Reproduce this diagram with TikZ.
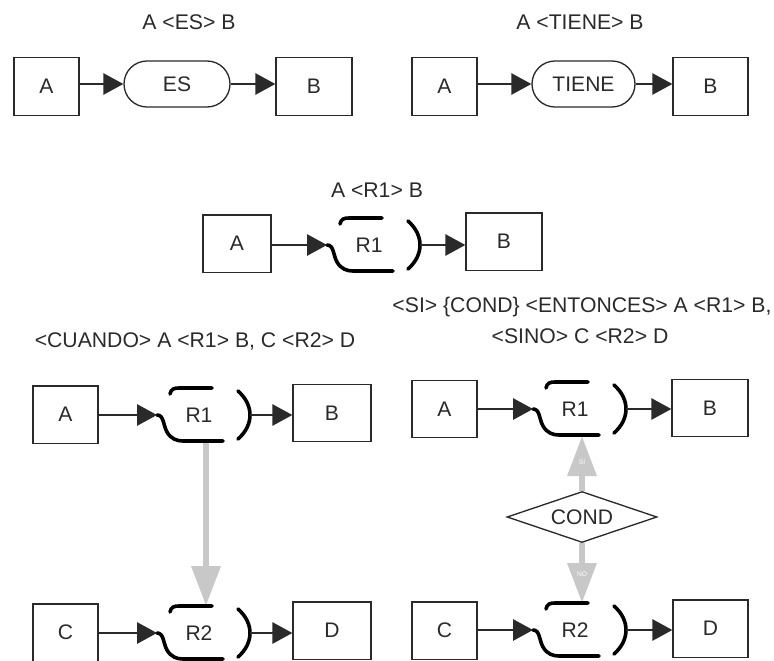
\documentclass[tikz,border=0pt]{standalone}
\usepackage{fontspec}
\setmainfont{Liberation Sans}
\usetikzlibrary{arrows.meta,shapes.misc,shapes.geometric,backgrounds}
\definecolor{ink}{HTML}{2A2A2A}
\definecolor{lgray}{HTML}{C8C8C8}
\newcommand{\nodefont}{\fontsize{15.8pt}{18pt}\selectfont}
\newcommand{\titlefont}{\fontsize{15.9pt}{18pt}\selectfont}
\newcommand{\tinyfont}{\fontsize{5pt}{6pt}\selectfont}
\tikzset{
  box/.style={draw=ink, line width=1pt, text=ink, font=\nodefont, inner sep=0pt, minimum height=43pt},
  pill/.style={rounded rectangle, draw=ink, line width=1pt, text=ink, font=\nodefont, minimum height=34.5pt, inner sep=0pt},
  condbox/.style={diamond, draw=ink, line width=1pt, text=ink, font=\nodefont, minimum width=112.5pt, minimum height=38.25pt, inner sep=0pt, aspect=2.9, fill=white},
  ttl/.style={text=ink, font=\titlefont, anchor=base, inner sep=0pt},
  conn/.style={draw=ink, line width=1.4pt, -{Triangle[length=15pt,width=16pt]}},
  rbar/.style={line width=2.7pt, line cap=round, draw=black},
  garrow/.style={draw=lgray, line width=5pt, -{Triangle[length=30pt,width=21pt]}},
  tinylbl/.style={font=\tinyfont, text=white, inner sep=0pt},
  rtext/.style={text=ink, font=\nodefont, inner sep=0pt},
  pics/rel/.style={code={
    \draw[rbar] (-29,-21) .. controls (-28,-26) and (-25,-27) .. (-20,-27) -- (13,-27);
    \draw[rbar] (-42,0) .. controls (-35,0) and (-36,10) .. (-32,17) .. controls (-28,24) and (-22,26) .. (-16,26) -- (24,26);
    \draw[rbar] (39,-24) .. controls (55,-10) and (55,10) .. (39,24);
    \node[rtext] (-lbl) at (0,0) {#1};
    \coordinate (-in) at (-42,0);
    \coordinate (-out) at (51,0);
    \coordinate (-top) at (7,-27);
    \coordinate (-bot) at (7,27);
  }}
}
\begin{document}
\begin{tikzpicture}[x=0.75pt,y=-0.75pt]
\useasboundingbox (0,0) rectangle (774,660);

% --- top left: A <ES> B
\node[ttl] (t1) at (189,30) {A <ES> B};
\node[box, minimum width=48.75pt] (tA) at (46.5,86.5) {A};
\node[pill, minimum width=79.5pt] (es) at (177,84) {ES};
\node[box, minimum width=57pt] (tB) at (314,86.5) {B};
\draw[conn] (tA.east |- es.west) -- (es.west);
\draw[conn] (es.east) -- (tB.west |- es.east);

% --- top right: A <TIENE> B
\node[ttl] (t2) at (580,30) {A <TIENE> B};
\node[box, minimum width=48.75pt] (uA) at (444.5,86.5) {A};
\node[pill, minimum width=77.25pt] (ti) at (583.5,84) {TIENE};
\node[box, minimum width=56.25pt] (uB) at (710.5,86.5) {B};
\draw[conn] (uA.east |- ti.west) -- (ti.west);
\draw[conn] (ti.east) -- (uB.west |- ti.east);

% --- middle: A <R1> B
\node[ttl] (t3) at (377,197) {A <R1> B};
\node[box, minimum width=51pt] (mA) at (237,243.5) {A};
\node[box, minimum width=57pt] (mB) at (504,241.5) {B};
\pic (m1) at (369,245) {rel=R1};
\draw[conn] (mA.east |- m1-in) -- (m1-in);
\draw[conn] (m1-out) -- (mB.west |- m1-out);

% --- bottom left: CUANDO
\node[ttl] (t4) at (195,347) {<CUANDO> A <R1> B, C <R2> D};
\node[box, minimum width=48.75pt] (lA) at (65.5,414.5) {A};
\node[box, minimum width=58.5pt] (lB) at (332,413) {B};
\node[box, minimum width=48.75pt] (lC) at (65.5,632.5) {C};
\node[box, minimum width=58.5pt] (lD) at (332,630.5) {D};
\pic (l1) at (199,415) {rel=R1};
\pic (l2) at (199,633) {rel=R2};
\draw[conn] (lA.east |- l1-in) -- (l1-in);
\draw[conn] (l1-out) -- (lB.west |- l1-out);
\draw[conn] (lC.east |- l2-in) -- (l2-in);
\draw[conn] (l2-out) -- (lD.west |- l2-out);
\begin{scope}[on background layer]
\draw[garrow] (l1-bot) -- (l2-top);
\end{scope}

% --- bottom right: SI / SINO
\node[ttl] (t5) at (582,312) {<SI> \{COND\} <ENTONCES> A <R1> B,};
\node[ttl] (t6) at (580,343) {<SINO> C <R2> D};
\node[box, minimum width=48.75pt] (rA) at (444.5,409) {A};
\node[box, minimum width=57pt] (rB) at (710,408) {B};
\node[box, minimum width=48.75pt] (rC) at (444.5,630.5) {C};
\node[box, minimum width=56.25pt] (rD) at (710.5,628.5) {D};
\pic (r1) at (575,409) {rel=R1};
\pic (r2) at (575,630) {rel=R2};
\draw[conn] (rA.east |- r1-in) -- (r1-in);
\draw[conn] (r1-out) -- (rB.west |- r1-out);
\draw[conn] (rC.east |- r2-in) -- (r2-in);
\draw[conn] (r2-out) -- (rD.west |- r2-out);
\node[condbox] (cond) at (582,517) {COND};
\begin{scope}[on background layer]
\draw[garrow] (cond.north) -- (r1-bot);
\draw[garrow] (cond.south) -- (r2-top);
\end{scope}
\node[tinylbl] (si) at (582,462) {SI};
\node[tinylbl] (no) at (582,574) {NO};
\end{tikzpicture}
\end{document}
